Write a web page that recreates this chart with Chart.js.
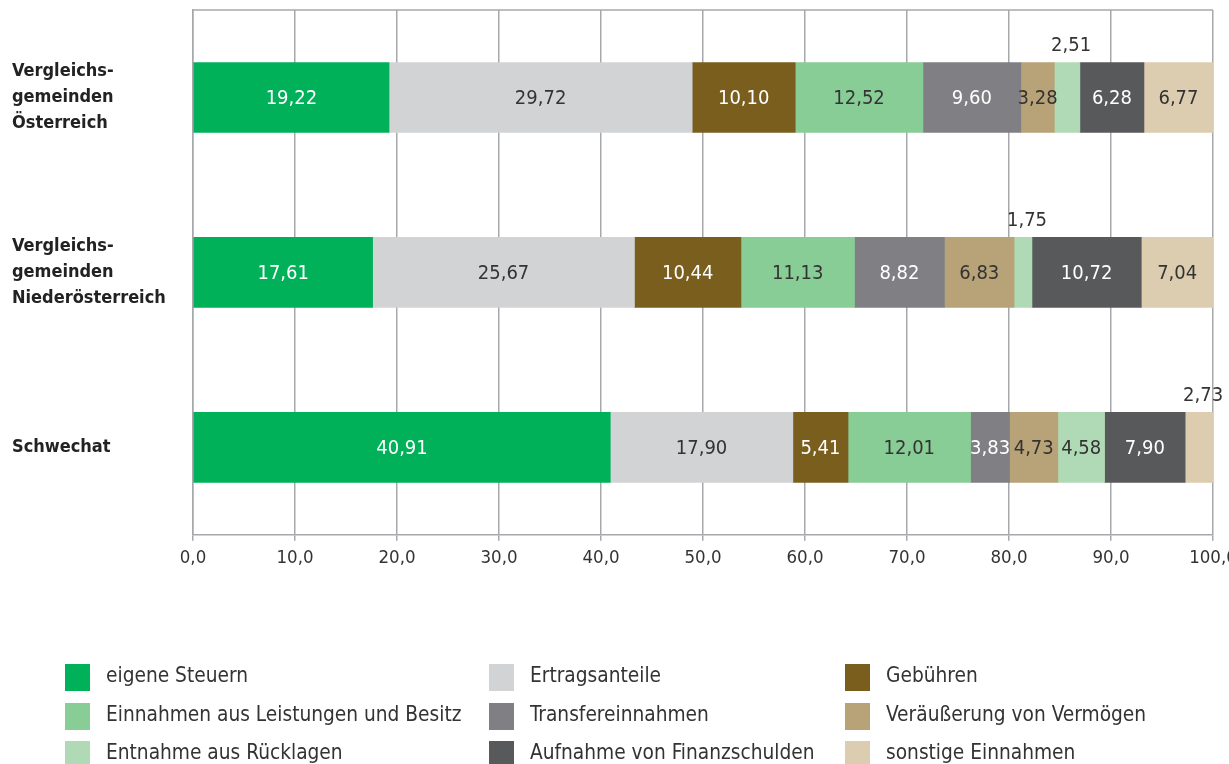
<!DOCTYPE html>
<html>
<head>
<meta charset="utf-8">
<script src="https://cdn.jsdelivr.net/npm/chart.js@4.4.1/dist/chart.umd.min.js"></script>
<style>
  html, body { margin: 0; padding: 0; background: #fff; }
  #wrap { width: 1229px; height: 764px; position: relative; }
</style>
</head>
<body>
<div id="wrap"><canvas id="chart" width="1229" height="764"></canvas></div>
<script>
const FONT = "'DejaVu Sans Condensed', 'DejaVu Sans', sans-serif";

const categories = [
  ['Vergleichs-', 'gemeinden', 'Österreich'],
  ['Vergleichs-', 'gemeinden', 'Niederösterreich'],
  ['Schwechat']
];

const seriesNames = [
  'eigene Steuern', 'Ertragsanteile', 'Gebühren',
  'Einnahmen aus Leistungen und Besitz', 'Transfereinnahmen', 'Veräußerung von Vermögen',
  'Entnahme aus Rücklagen', 'Aufnahme von Finanzschulden', 'sonstige Einnahmen'
];

const eigeneSteuern   = [19.22, 17.61, 40.91];
const ertragsanteile  = [29.72, 25.67, 17.90];
const gebuehren       = [10.10, 10.44, 5.41];
const leistungen      = [12.52, 11.13, 12.01];
const transfer        = [9.60, 8.82, 3.83];
const veraeusserung   = [3.28, 6.83, 4.73];
const entnahme        = [2.51, 1.75, 4.58];
const finanzschulden  = [6.28, 10.72, 7.90];
const sonstige        = [6.77, 7.04, 2.73];

const seriesValues = [eigeneSteuern, ertragsanteile, gebuehren, leistungen, transfer,
  veraeusserung, entnahme, finanzschulden, sonstige];

const colors = ['#00b15a', '#d2d3d5', '#7a5e1e', '#88cc96', '#808084',
  '#b8a277', '#b0dab5', '#58595b', '#dccdb0'];
const labelColors = ['#ffffff', '#333333', '#ffffff', '#333333', '#ffffff',
  '#333333', '#333333', '#ffffff', '#333333'];

const xTicks = [0, 10, 20, 30, 40, 50, 60, 70, 80, 90, 100];

const fmt = v => v.toFixed(2).replace('.', ',');

// segment labels, small ones above the bar
const segmentLabels = {
  id: 'segmentLabels',
  afterDatasetsDraw(chart) {
    const ctx = chart.ctx;
    ctx.save();
    ctx.font = `20px ${FONT}`;
    ctx.textAlign = 'center';
    ctx.textBaseline = 'middle';
    chart.data.datasets.forEach((ds, i) => {
      const meta = chart.getDatasetMeta(i);
      meta.data.forEach((bar, j) => {
        const v = ds.data[j];
        let cx = (bar.x + bar.base) / 2;
        if (v < 3) {
          const half = ctx.measureText(fmt(v)).width / 2;
          cx = Math.min(cx + 4, chart.width - 2 - half);
          ctx.fillStyle = '#333333';
          ctx.fillText(fmt(v), cx, bar.y - bar.height / 2 - 17);
        } else {
          ctx.fillStyle = labelColors[i];
          ctx.fillText(fmt(v), cx, bar.y + 1);
        }
      });
    });
    ctx.restore();
  }
};

const topFrame = {
  id: 'topFrame',
  afterDraw(chart) {
    const { ctx, chartArea } = chart;
    ctx.save();
    ctx.strokeStyle = '#a7a8ab';
    ctx.lineWidth = 1.5;
    ctx.beginPath();
    ctx.moveTo(chartArea.left, chartArea.top);
    ctx.lineTo(chartArea.right, chartArea.top);
    ctx.stroke();
    ctx.restore();
  }
};

// legend in 3 columns, row-major
const gridLegend = {
  id: 'gridLegend',
  afterDraw(chart) {
    const ctx = chart.ctx;
    const colX = [65, 489, 845];
    const rowY = [677, 716, 754];
    ctx.save();
    ctx.font = `20.7px ${FONT}`;
    ctx.textBaseline = 'middle';
    ctx.textAlign = 'left';
    chart.data.datasets.forEach((ds, i) => {
      const x = colX[i % 3];
      const y = rowY[Math.floor(i / 3)];
      ctx.fillStyle = ds.backgroundColor;
      ctx.fillRect(x, y - 13, 25, 27);
      ctx.fillStyle = '#333333';
      ctx.fillText(ds.label, x + 41, y);
    });
    ctx.restore();
  }
};

new Chart(document.getElementById('chart'), {
  type: 'bar',
  data: {
    labels: categories,
    datasets: seriesNames.map((name, i) => ({
      label: name,
      data: seriesValues[i],
      backgroundColor: colors[i],
      borderWidth: 0,
      barThickness: 70
    }))
  },
  options: {
    indexAxis: 'y',
    responsive: false,
    animation: false,
    layout: { padding: { left: 12, right: 16, top: 10, bottom: 189 } },
    plugins: {
      legend: { display: false },
      tooltip: { enabled: false }
    },
    scales: {
      x: {
        stacked: true,
        min: 0,
        max: 100,
        afterBuildTicks: scale => { scale.ticks = xTicks.map(v => ({ value: v })); },
        afterFit: scale => { scale.paddingLeft = 0; scale.paddingRight = 0; },
        grid: { color: '#a7a8ab', lineWidth: 1.5, tickLength: 6, drawTicks: true },
        border: { color: '#a7a8ab', width: 1.5 },
        ticks: {
          color: '#333333',
          font: { family: FONT, size: 18.5 },
          padding: 6,
          maxRotation: 0,
          callback: v => v.toFixed(1).replace('.', ',')
        }
      },
      y: {
        stacked: true,
        afterFit: scale => { scale.width = 181; scale.paddingTop = 0; scale.paddingBottom = 0; },
        grid: { display: false },
        border: { color: '#a7a8ab', width: 1.5 },
        ticks: {
          crossAlign: 'far',
          color: '#222222',
          font: { family: FONT, size: 18, weight: 'bold', lineHeight: 1.45 }
        }
      }
    }
  },
  plugins: [segmentLabels, topFrame, gridLegend]
});
</script>
</body>
</html>
